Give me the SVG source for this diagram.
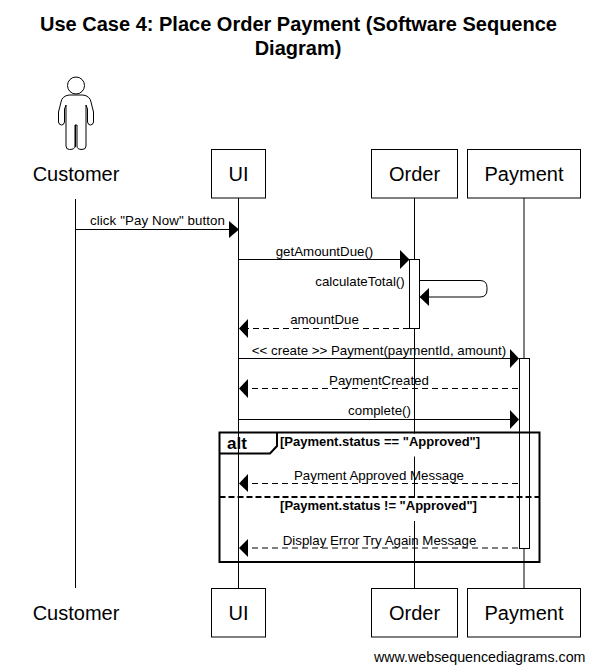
<svg xmlns="http://www.w3.org/2000/svg" width="595" height="672" viewBox="0 0 595 672">
<style>
text{font-family:"Liberation Sans",Arial,sans-serif;fill:#000}
.title{font-size:20px;font-weight:bold;text-anchor:middle}
.actor{font-size:20px;text-anchor:middle}
.msg{font-size:13.3px;text-anchor:middle}
.guard{font-size:13px;font-weight:bold;text-anchor:middle}
.box{fill:#fff;stroke:#000;stroke-width:1}
.life{stroke:#000;stroke-width:1;fill:none}
.line{stroke:#000;stroke-width:1;fill:none}
.dash{stroke:#000;stroke-width:1;fill:none;stroke-dasharray:6 4}
.head{fill:#000;stroke:none}
</style>
<rect width="595" height="672" fill="#fff"/>
<text class="title" x="298.500" y="31">Use Case 4: Place Order Payment (Software Sequence</text>
<text class="title" x="298" y="55">Diagram)</text>
<g id="lifelines">
<path class="life" d="M75.500 199V588M238.500 198V588M414.500 198V588M524 198V588"/>
</g>
<g id="activations">
<rect class="box" x="409.500" y="259.500" width="10" height="69"/>
<rect class="box" x="519.500" y="358.500" width="10" height="190"/>
</g>
<g id="frame">
<rect x="415" y="433.500" width="1" height="23" fill="#fff"/>
<rect x="414" y="498" width="1" height="23" fill="#fff"/>
<rect x="414" y="433.500" width="2" height="23" fill="#fff"/>
<rect x="219.500" y="432.500" width="320" height="129.500" fill="none" stroke="#000" stroke-width="2"/>
<path d="M219.500 453.500H270L277 446V432.500" fill="none" stroke="#000" stroke-width="2"/>
<path d="M219.500 497H539.500" fill="none" stroke="#000" stroke-width="2" stroke-dasharray="6 3"/>
<text x="227" y="449" font-size="17" font-weight="bold">alt</text>
<text class="guard" x="380" y="446">[Payment.status == "Approved"]</text>
<text class="guard" x="378.500" y="510">[Payment.status != "Approved"]</text>
</g>
<g id="connectors">
<path class="line" d="M76 229.500H229"/><path class="head" d="M239 229.500L229 221V238Z"/>
<path class="line" d="M239 259.500H400"/><path class="head" d="M409.500 259.500L400 250V269Z"/>
<path class="line" d="M419.500 280.500H480Q487 280.500 487 287.500V290Q487 297 480 297H429"/><path class="head" d="M419.500 297L429 288V306Z"/>
<path class="dash" d="M409 328.500H248"/><path class="head" d="M239 328.500L248 319V338Z"/>
<path class="line" d="M239 358.500H510"/><path class="head" d="M519 358.500L510 349V368Z"/>
<path class="dash" d="M518 388.500H248"/><path class="head" d="M239 388.500L248 379V398Z"/>
<path class="line" d="M239 419.500H510"/><path class="head" d="M519 419.500L510 410V429Z"/>
<path class="dash" d="M518 483.500H248"/><path class="head" d="M239 483.500L248 474V492Z"/>
<path class="dash" d="M518 548H248"/><path class="head" d="M239 548L248 539V557Z"/>
</g>
<g id="labels">
<text class="msg" x="157.500" y="225" textLength="135">click "Pay Now" button</text>
<text class="msg" x="324.500" y="256">getAmountDue()</text>
<text class="msg" x="360" y="286">calculateTotal()</text>
<text class="msg" x="324.500" y="324">amountDue</text>
<text class="msg" x="379" y="355">&lt;&lt; create &gt;&gt; Payment(paymentId, amount)</text>
<text class="msg" x="379" y="385">PaymentCreated</text>
<text class="msg" x="379.500" y="415">complete()</text>
<text class="msg" x="379" y="480">Payment Approved Message</text>
<text class="msg" x="379.500" y="545">Display Error Try Again Message</text>
</g>
<g id="actor-customer-top">
<circle cx="76" cy="85.500" r="8.500" fill="#fff" stroke="#000" stroke-width="1"/>
<path d="M69 95Q62 96 61 102L58.500 112V122Q59 125 61.500 125Q64 125 64.500 122V109L66 105V146Q66 149.500 69.500 149.500Q75 149.500 75 146V125H77V146Q77 149.500 82 149.500Q86 149.500 86 146V105L87.500 109V122Q88 125 90.500 125Q93 125 93.500 122V112L91 102Q90 96 83 95Z" fill="#fff" stroke="#000" stroke-width="1"/>
<path d="M75.500 125V147" stroke="#000" stroke-width="1" fill="none"/>
<text class="actor" x="76" y="181">Customer</text>
</g>
<g id="node-ui-top"><rect class="box" x="211.500" y="149.500" width="54" height="48.500"/><text class="actor" x="238.500" y="181">UI</text></g>
<g id="node-order-top"><rect class="box" x="371.500" y="149.500" width="86" height="48.500"/><text class="actor" x="414.500" y="181">Order</text></g>
<g id="node-payment-top"><rect class="box" x="467.500" y="149.500" width="113" height="48.500"/><text class="actor" x="524" y="181">Payment</text></g>
<g id="actor-customer-bottom"><text class="actor" x="76" y="620">Customer</text></g>
<g id="node-ui-bottom"><rect class="box" x="211.500" y="588.500" width="54" height="48.500"/><text class="actor" x="238.500" y="620">UI</text></g>
<g id="node-order-bottom"><rect class="box" x="371.500" y="588.500" width="86" height="48.500"/><text class="actor" x="414.500" y="620">Order</text></g>
<g id="node-payment-bottom"><rect class="box" x="467.500" y="588.500" width="113" height="48.500"/><text class="actor" x="524" y="620">Payment</text></g>
<text x="374" y="662" font-size="14.250">www.websequencediagrams.com</text>
</svg>
